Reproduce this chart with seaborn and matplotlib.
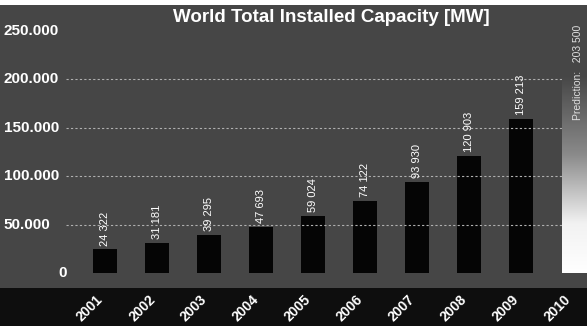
import matplotlib
matplotlib.use("Agg")
import matplotlib.pyplot as plt
import matplotlib.transforms as mtransforms
import seaborn as sns
import numpy as np
import pandas as pd
from matplotlib.patches import Rectangle

years = ["2001", "2002", "2003", "2004", "2005", "2006", "2007", "2008", "2009", "2010"]
capacity = [24322, 31181, 39295, 47693, 59024, 74122, 93930, 120903, 159213, 203500]
value_labels = ["24 322", "31 181", "39 295", "47 693", "59 024", "74 122", "93 930",
                "120 903", "159 213", ""]
prediction_label = "Prediction:   203 500"
y_ticks = [0, 50000, 100000, 150000, 200000, 250000]
y_tick_labels = ["0", "50.000", "100.000", "150.000", "200.000", "250.000"]
title = "World Total Installed Capacity [MW]"

sns.set_theme(style="dark")
plt.rcParams['font.family'] = ['Liberation Sans', 'DejaVu Sans']

df = pd.DataFrame({"year": years, "capacity": capacity})

fig = plt.figure(figsize=(5.87, 3.26), dpi=100)
fig.patch.set_facecolor("#0e0e0e")
ax = fig.add_axes([0, 38 / 326, 1, 283 / 326])
bg = "#464646"
ax.set_facecolor(bg)

colors = ["#050505"] * 9 + [bg]
sns.barplot(data=df, x="year", y="capacity", hue="year", palette=colors,
            legend=False, width=0.45, ax=ax, saturation=1, edgecolor="none")

# gradient for prediction bar
pred_patch = ax.patches[9]
x0 = pred_patch.get_x()
w = pred_patch.get_width()
h = pred_patch.get_height()
grad = np.linspace(0, 1, 256).reshape(-1, 1)
cmap = matplotlib.colors.LinearSegmentedColormap.from_list(
    "g", [(0, "#ffffff"), (0.25, "#f2f2f2"), (0.6, "#8a8a8a"), (1, bg)])
im = ax.imshow(grad, cmap=cmap, aspect="auto",
               extent=[x0 + 0.02, x0 + w + 0.08, 0, h], origin="lower", zorder=3)

ax.set_xlim(-2.02, 9.27)
ax.set_ylim(-15464, 276289)

for yv in y_ticks[1:5]:
    ax.plot([-0.75, 9.27], [yv, yv], color="#b0b0b0", lw=0.8, ls=(0, (2, 2)), zorder=1)

for i, (v, lab) in enumerate(zip(capacity, value_labels)):
    if lab:
        ax.text(i, v + 4000, lab, rotation=90, ha="center", va="bottom",
                color="white", fontsize=8, zorder=5)
ax.text(9.1, 256000, prediction_label, rotation=90, ha="center", va="top",
        color="#e0e0e0", fontsize=7.5, zorder=5)

for yv, lab in zip(y_ticks, y_tick_labels):
    ax.text(-1.95 if lab != "0" else -0.9, yv, lab, ha="left", va="center",
            color="white", fontsize=11, fontweight="bold", zorder=5)

ax.set_xticks(range(len(years)))
ax.set_xticklabels(years, rotation=45, ha="right", rotation_mode="anchor",
                   color="white", fontsize=10, fontweight="bold")
ax.tick_params(axis="x", length=0, pad=3)
offset = mtransforms.ScaledTranslation(-9 / 100, 0, fig.dpi_scale_trans)
for lbl in ax.get_xticklabels():
    lbl.set_transform(lbl.get_transform() + offset)
ax.set_yticks([])
ax.set_xlabel("")
ax.set_ylabel("")
for s in ax.spines.values():
    s.set_visible(False)

ax.text(0.564, 0.955, title, transform=ax.transAxes, ha="center", va="center",
        color="white", fontsize=13.5, fontweight="bold", zorder=6)

fig.patches.append(Rectangle((0, 321 / 326), 1, 5 / 326, transform=fig.transFigure,
                             facecolor="white", edgecolor="none", zorder=10))

fig.savefig("out.png", dpi=100, facecolor=fig.get_facecolor())
